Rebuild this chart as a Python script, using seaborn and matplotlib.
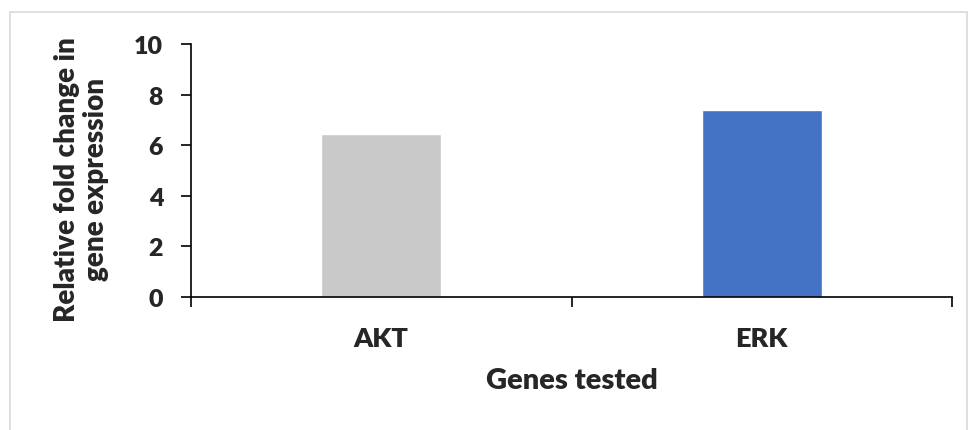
import matplotlib
matplotlib.use("Agg")
import matplotlib.pyplot as plt
import seaborn as sns
import pandas as pd
from matplotlib.patches import Rectangle

genes = ["AKT", "ERK"]
fold_change = [6.45, 7.4]
bar_colors = ["#C9C9C9", "#4472C4"]
y_ticks = [0, 2, 4, 6, 8, 10]

sns.set_theme(style="white")
plt.rcParams['font.family'] = ['Lato', 'DejaVu Sans']
plt.rcParams['font.weight'] = 'bold'

df = pd.DataFrame({"gene": genes, "value": fold_change})

fig = plt.figure(figsize=(9.68, 4.31), dpi=100)
ax = fig.add_axes([191/968, 1-298/431, (952-191)/968, (298-45)/431])

sns.barplot(data=df, x="gene", y="value", hue="gene", palette=bar_colors,
            width=0.315, legend=False, ax=ax, saturation=1)

ax.set_xlim(-0.5, 1.5)
ax.set_ylim(0, 10)
ax.set_yticks(y_ticks)
ax.set_yticklabels([str(t) for t in y_ticks], fontsize=18, fontweight='heavy')
ax.set_xticks([0, 1])
ax.set_xticklabels(genes, fontsize=19.5, fontweight='heavy')
ax.set_xticks([-0.5, 0.5, 1.5], minor=True)
ax.tick_params(axis='x', which='major', length=0, pad=21)
ax.tick_params(axis='x', which='minor', length=7, width=1.2, color='black', direction='out', bottom=True)
ax.tick_params(axis='y', which='major', length=7, width=1.2, color='black', direction='out', left=True, pad=13)

for s in ['top', 'right']:
    ax.spines[s].set_visible(False)
for s in ['left', 'bottom']:
    ax.spines[s].set_color('black')
    ax.spines[s].set_linewidth(1.2)

ax.set_xlabel("Genes tested", fontsize=21, fontweight='heavy', labelpad=12)
ax.set_ylabel("Relative fold change in\ngene expression", fontsize=20, fontweight='heavy',
              linespacing=1.15)
ax.yaxis.set_label_coords(-0.108, 0.47)

fig.patches.append(Rectangle((9.5/968, -0.1), (966.5-9.5)/968, 1.1 - 12.5/431, transform=fig.transFigure,
                             fill=False, edgecolor='#D9D9D9', linewidth=1.2, zorder=0))

fig.savefig("out.png", dpi=100)
